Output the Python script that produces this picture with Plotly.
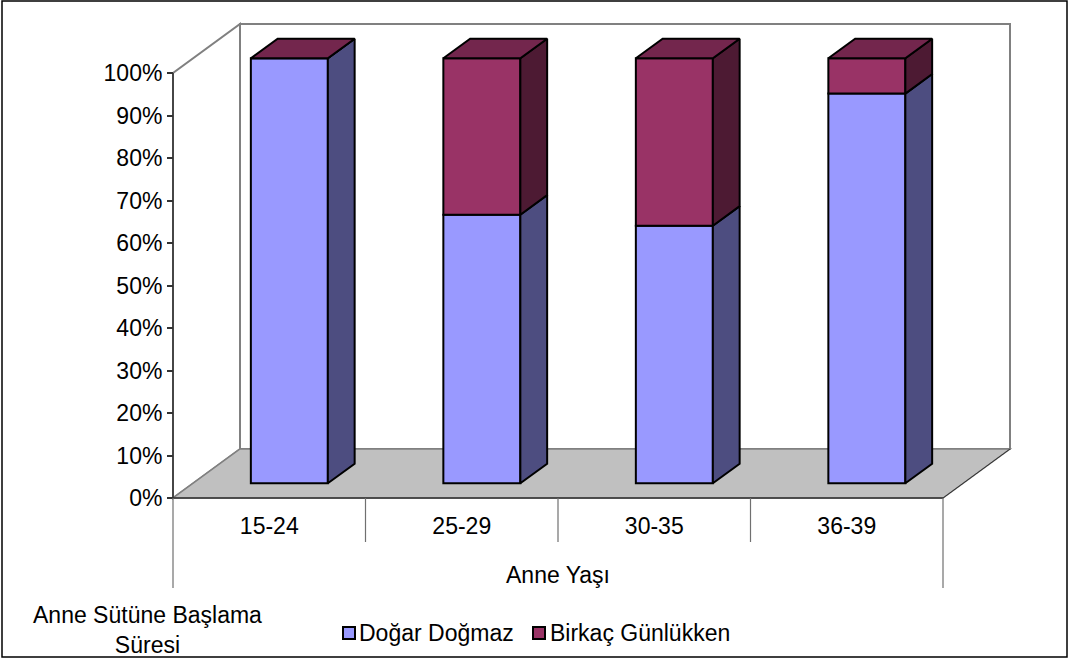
import plotly.graph_objects as go

# ---- data -------------------------------------------------------------
categories = ["15-24", "25-29", "30-35", "36-39"]
dogar_dogmaz = [100.0, 63.2, 60.6, 91.7]
birkac_gunlukken = [0.0, 36.8, 39.4, 8.3]
series_names = ["Doğar Doğmaz", "Birkaç Günlükken"]
y_tick_values = [0, 10, 20, 30, 40, 50, 60, 70, 80, 90, 100]
y_tick_labels = [f"{v}%" for v in y_tick_values]
x_title = "Anne Yaşı"
legend_title = "Anne Sütüne Başlama<br>Süresi"

# ---- page geometry (pixels) -------------------------------------------
W, H = 1069, 661
FRONT_LEFT_PX = 173        # left edge of the front plane (category 0)
CAT_PX = 192.5             # width of one category on the front plane
FLOOR_PX = 498             # 0 % on the front plane
PCT_PX = 4.25              # pixels per percent
DEPTH_X_PX, DEPTH_Y_PX = 67, 49   # full depth of the 3-D box

FONT = "Liberation Sans, Arial, sans-serif"
FS = 23

# depth vector in data units
DX = DEPTH_X_PX / CAT_PX
DY = DEPTH_Y_PX / PCT_PX
BAR_W = 0.4          # bar width in category units
D_FRONT, D_DEPTH = 0.3, 0.4   # bar front plane and bar thickness (fraction of depth)

n = len(categories)
x_range = [-FRONT_LEFT_PX / CAT_PX, (W - FRONT_LEFT_PX) / CAT_PX]
y_range = [(FLOOR_PX - H) / PCT_PX, FLOOR_PX / PCT_PX]


def px_to_y(py):
    return (FLOOR_PX - py) / PCT_PX


front_cols = ["#9999FF", "#993366"]
side_cols = ["#4D4D80", "#4D1A33"]
top_col = "#73264D"

fig = go.Figure()

# ---- box: back wall, side wall, floor ---------------------------------
shapes = []
wall_line = dict(color="#808080", width=2)
shapes.append(dict(type="path", xref="x", yref="y", layer="below",
                   path=f"M{DX},{DY} L{n + DX},{DY} L{n + DX},{100 + DY} L{DX},{100 + DY} Z",
                   fillcolor="white", line=wall_line))
shapes.append(dict(type="path", xref="x", yref="y", layer="below",
                   path=f"M0,0 L{DX},{DY} L{DX},{100 + DY} L0,100 Z",
                   fillcolor="white", line=wall_line))
shapes.append(dict(type="path", xref="x", yref="y", layer="below",
                   path=f"M0,0 L{n},0 L{n + DX},{DY} L{DX},{DY} Z",
                   fillcolor="#C0C0C0", line=dict(color="#808080", width=1.5)))
# front and right floor edges
shapes.append(dict(type="line", xref="x", yref="y", layer="below",
                   x0=0, y0=0, x1=n, y1=0, line=dict(color="#333333", width=1.5)))
shapes.append(dict(type="line", xref="x", yref="y", layer="below",
                   x0=n, y0=0, x1=n + DX, y1=DY, line=dict(color="#333333", width=1)))
# value axis line
shapes.append(dict(type="line", xref="x", yref="y", x0=0, y0=0, x1=0, y1=100,
                   line=dict(color="#333333", width=1.5)))
# category dividers below the floor
for k in range(n + 1):
    bottom = px_to_y(588) if k in (0, n) else px_to_y(542)
    shapes.append(dict(type="line", xref="x", yref="y", x0=k, y0=0, x1=k, y1=bottom,
                       line=dict(color="#707070", width=1.2)))

# ---- 3-D stacked columns ---------------------------------------------
centers = [i + 0.5 + D_FRONT * DX for i in range(n)]
base_front = D_FRONT * DY
stacks = [dogar_dogmaz, birkac_gunlukken]
bases = [[base_front] * n, [base_front + v for v in dogar_dogmaz]]

for s, (vals, base) in enumerate(zip(stacks, bases)):
    fig.add_trace(go.Bar(
        x=centers, y=vals, base=base, width=BAR_W, name=series_names[s],
        marker=dict(color=front_cols[s], line=dict(color="black", width=2)),
        showlegend=False, hovertext=categories, hoverinfo="text+y+name"))

ddx, ddy = D_DEPTH * DX, D_DEPTH * DY
for s, (vals, base) in enumerate(zip(stacks, bases)):
    for i in range(n):
        xr = centers[i] + BAR_W / 2
        b, t = base[i], base[i] + vals[i]
        fig.add_trace(go.Scatter(
            x=[xr, xr + ddx, xr + ddx, xr, xr], y=[b, b + ddy, t + ddy, t, b],
            mode="lines", fill="toself", fillcolor=side_cols[s],
            line=dict(color="black", width=2), hoverinfo="skip", showlegend=False))

for i in range(n):
    xl, xr = centers[i] - BAR_W / 2, centers[i] + BAR_W / 2
    t = bases[1][i] + birkac_gunlukken[i]
    fig.add_trace(go.Scatter(
        x=[xl, xr, xr + ddx, xl + ddx, xl], y=[t, t, t + ddy, t + ddy, t],
        mode="lines", fill="toself", fillcolor=top_col,
        line=dict(color="black", width=2), hoverinfo="skip", showlegend=False))

# ---- legend (title on the left, two swatches) -------------------------
annotations = [
    dict(text=x_title, xref="x", yref="y", x=n / 2, y=px_to_y(575),
         showarrow=False, font=dict(family=FONT, size=FS, color="black")),
    dict(text=legend_title, xref="paper", yref="paper", x=147 / W, y=1 - 630 / H,
         xanchor="center", yanchor="middle",
         showarrow=False, align="center", font=dict(family=FONT, size=FS, color="black")),
]
legend_items = [(343, 357), (533, 548)]
for s, (sx, tx) in enumerate(legend_items):
    shapes.append(dict(type="rect", xref="paper", yref="paper",
                       x0=sx / W, x1=(sx + 12) / W, y0=1 - 639 / H, y1=1 - 627 / H,
                       fillcolor=front_cols[s], line=dict(color="black", width=2)))
    annotations.append(dict(text=series_names[s], xref="paper", yref="paper",
                            x=tx / W, y=1 - 633 / H, xanchor="left", yanchor="middle",
                            showarrow=False, font=dict(family=FONT, size=FS, color="black")))

# outer frame
shapes.append(dict(type="rect", xref="paper", yref="paper", x0=2 / W, x1=1 - 2 / W,
                   y0=4 / H, y1=1 - 1 / H, line=dict(color="black", width=1.5)))

fig.update_layout(
    width=W, height=H, margin=dict(l=0, r=0, t=0, b=0),
    paper_bgcolor="white", plot_bgcolor="white",
    barmode="overlay", showlegend=False,
    font=dict(family=FONT, size=FS, color="black"),
    shapes=shapes, annotations=annotations,
    xaxis=dict(range=x_range, domain=[0, 1], anchor="free", position=1 - FLOOR_PX / H,
               tickvals=[i + 0.5 for i in range(n)], ticktext=categories,
               ticks="", showgrid=False, zeroline=False, showline=False,
               ticklabelstandoff=12, tickfont=dict(family=FONT, size=FS)),
    yaxis=dict(range=y_range, domain=[0, 1], anchor="free", position=FRONT_LEFT_PX / W,
               tickvals=y_tick_values, ticktext=y_tick_labels,
               ticks="outside", ticklen=6, tickcolor="#333333", tickwidth=1.5,
               showgrid=False, zeroline=False, showline=False,
               tickfont=dict(family=FONT, size=FS)),
)

fig.write_html("out.html")
